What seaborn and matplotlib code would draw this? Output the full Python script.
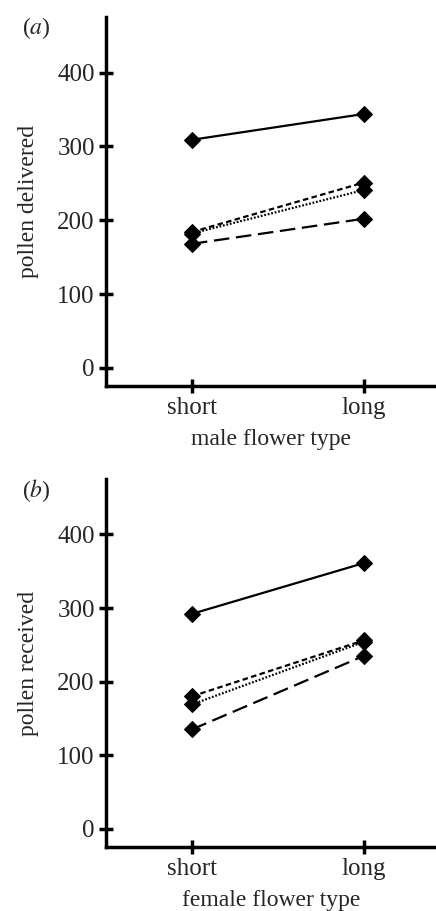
import pandas as pd
import matplotlib.pyplot as plt
import seaborn as sns

# values
flower_types = ["short", "long"]
series = ["solid", "short dash", "dotted", "long dash"]
delivered_short = [309, 184, 182, 168]
delivered_long = [344, 251, 241, 202]
received_short = [292, 180, 169, 135]
received_long = [361, 256, 254, 235]

dash_styles = {
    "solid": "",
    "short dash": (2.5, 1.5),
    "dotted": (0.8, 0.8),
    "long dash": (7, 3),
}


def long_form(short_vals, long_vals):
    rows = []
    for name, s, l in zip(series, short_vals, long_vals):
        rows.append({"type": flower_types[0], "value": s, "series": name})
        rows.append({"type": flower_types[1], "value": l, "series": name})
    return pd.DataFrame(rows)


sns.set_style("ticks")
plt.rcParams["font.family"] = ["Liberation Serif", "DejaVu Serif"]
plt.rcParams["mathtext.fontset"] = "stix"

fig = plt.figure(figsize=(4.36, 9.11), dpi=100)
ax_a = fig.add_axes([0.243, 0.576, 0.757, 0.405])
ax_b = fig.add_axes([0.243, 0.070, 0.757, 0.404])

panels = [
    (ax_a, long_form(delivered_short, delivered_long), "pollen delivered", "male flower type", "a"),
    (ax_b, long_form(received_short, received_long), "pollen received", "female flower type", "b"),
]

for ax, df, ylab, xlab, tag in panels:
    sns.lineplot(data=df, x="type", y="value", style="series", dashes=dash_styles,
                 markers={s: "D" for s in series}, color="black", markersize=8.5,
                 markeredgecolor="black", linewidth=1.6, legend=False, ax=ax,
                 sort=False)
    ax.set_xlim(-0.5, 1.42)
    ax.set_ylim(-25, 475)
    ax.set_yticks([0, 100, 200, 300, 400])
    ax.set_xlabel(xlab, fontsize=17, labelpad=7)
    ax.set_ylabel(ylab, fontsize=17, labelpad=13)
    ax.tick_params(axis="both", labelsize=18, direction="inout", length=10,
                   width=2.5, color="black", pad=3)
    for side in ["left", "bottom"]:
        ax.spines[side].set_linewidth(2.5)
        ax.spines[side].set_color("black")
    sns.despine(ax=ax)
    ax.text(-0.21, 0.97, "(" + r"$\mathit{" + tag + "}$" + ")", transform=ax.transAxes,
            fontsize=17, ha="center", va="center")

fig.savefig("out.png", dpi=100)
